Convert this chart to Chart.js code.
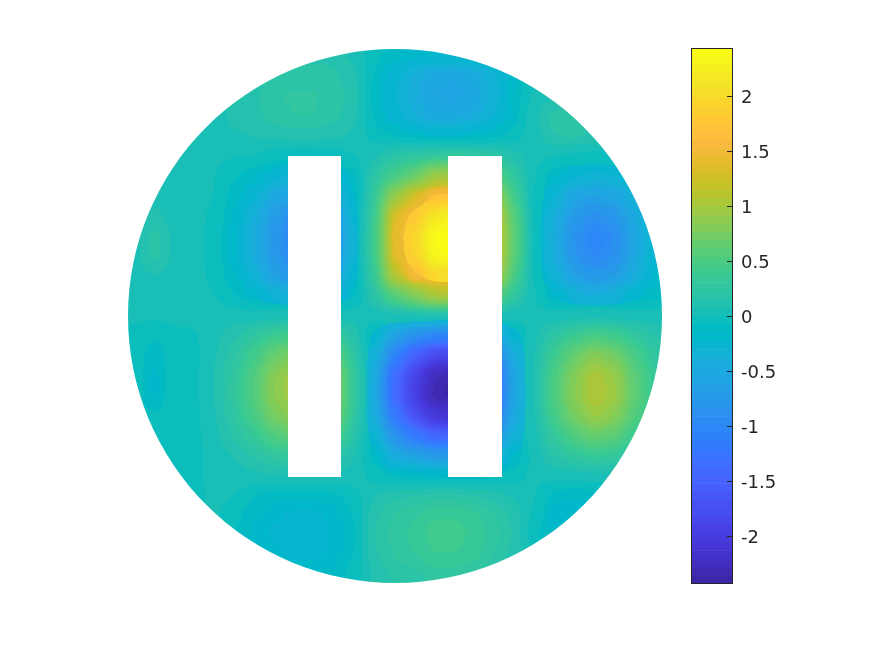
<!DOCTYPE html>
<html>
<head>
<meta charset="utf-8">
<style>
  body { margin: 0; background: #fff; }
  canvas { position: absolute; left: 0; top: 0; }
</style>
<script src="https://cdn.jsdelivr.net/npm/chart.js@4/dist/chart.umd.js"></script>
</head>
<body>
<canvas id="fieldChart" width="875" height="656"></canvas>
<canvas id="barChart" width="875" height="656"></canvas>
<script>
// sample positions of the grid
const colX = [-260,-240,-220,-200,-180,-160,-140,-120,-100,-80,-60,-40,-20,0,20,40,60,80,100,120,140,160,180,200,220,240,260];
const rowY = [260,240,220,200,180,160,140,120,100,80,60,40,20,0,-20,-40,-60,-80,-100,-120,-140,-160,-180,-200,-220,-240,-260];

const _ = null;
const row01 = [_,_,_,_,_,_,_,_,.1,.12,.12,.06,-.05,-.12,-.18,-.22,-.22,-.2,-.15,_,_,_,_,_,_,_,_];
const row02 = [_,_,_,_,_,.03,.1,.18,.21,.21,.17,.1,-.1,-.27,-.42,-.52,-.53,-.47,-.32,-.15,-.05,_,_,_,_,_,_];
const row03 = [_,_,_,_,.04,.1,.14,.22,.24,.24,.2,.12,-.12,-.3,-.42,-.54,-.55,-.5,-.35,-.15,.03,.06,.06,_,_,_,_];
const row04 = [_,_,_,.04,.04,.1,.13,.2,.23,.23,.18,.1,-.1,-.27,-.38,-.5,-.5,-.45,-.3,-.13,.05,.2,.2,.12,_,_,_];
const row05 = [_,_,.04,.04,.05,.07,.09,.11,.12,.12,.1,.06,-.04,-.1,-.15,-.2,-.2,-.17,-.12,-.05,.04,.16,.18,.14,.05,_,_];
const row06 = [_,.04,.05,.04,.02,0,0,-.05,-.08,-.08,-.05,0,.06,.17,.22,.25,.27,.25,.19,.1,.03,0,-.02,-.03,-.03,-.03,_];
const row07 = [.03,.03,.05,.04,0,-.07,-.15,-.26,-.34,-.34,-.27,-.1,.2,.45,.65,.95,1,.85,.55,.25,0,-.15,-.28,-.33,-.3,-.18,-.1];
const row08 = [.03,.05,.04,.03,0,-.12,-.28,-.5,-.65,-.65,-.53,-.18,.3,.9,1.3,1.65,1.75,1.5,1,.4,-.03,-.3,-.55,-.62,-.55,-.35,-.15];
const row09 = [.04,.1,.04,.03,-.02,-.17,-.4,-.7,-.92,-.92,-.75,-.26,.38,1.35,1.75,2.15,2.3,2,1.35,.55,-.05,-.4,-.75,-.88,-.8,-.5,-.2];
const row10 = [.05,.2,.05,.03,-.03,-.2,-.45,-.8,-1.05,-1.05,-.85,-.3,.4,1.45,1.95,2.4,2.44,2.2,1.5,.6,-.05,-.45,-.85,-1.05,-.92,-.55,-.25];
const row11 = [.05,.2,.05,.03,-.03,-.2,-.44,-.78,-1.02,-1.02,-.83,-.29,.39,1.4,1.9,2.35,2.44,2.15,1.45,.58,-.05,-.44,-.83,-1.02,-.9,-.53,-.24];
const row12 = [.03,.08,.04,.03,-.02,-.15,-.35,-.62,-.82,-.82,-.66,-.23,.32,1.1,1.6,1.95,2,1.75,1.17,.47,-.03,-.35,-.66,-.78,-.7,-.43,-.2];
const row13 = [.03,.03,.03,.03,0,-.08,-.18,-.32,-.42,-.42,-.34,-.12,.18,.55,.8,1.05,1.1,.9,.6,.25,0,-.18,-.34,-.4,-.36,-.22,-.1];
const row14 = [.01,.01,.01,.01,.03,.03,.03,.03,.03,.03,.03,.03,.03,.03,.03,.03,.03,.03,.03,.03,.03,.03,.03,.03,.03,.03,.03];
const row15 = [-.01,-.07,-.01,-.01,.05,.13,.25,.38,.45,.45,.35,.13,-.2,-.63,-.88,-1.05,-1.1,-.95,-.63,-.25,.06,.23,.38,.48,.42,.28,.15];
const row16 = [-.02,-.14,-.02,-.02,.07,.22,.43,.67,.78,.78,.62,.22,-.35,-1.09,-1.52,-1.83,-1.9,-1.64,-1.09,-.43,.07,.4,.66,.84,.74,.48,.25];
const row17 = [-.03,-.19,-.02,-.02,.08,.27,.53,.84,.98,.98,.8,.27,-.44,-1.36,-1.89,-2.28,-2.37,-2.04,-1.36,-.53,.08,.5,.82,1.05,.93,.6,.32];
const row18 = [-.03,-.19,-.02,-.02,.08,.28,.55,.86,1,1,.82,.28,-.45,-1.4,-1.95,-2.35,-2.44,-2.1,-1.4,-.55,.08,.52,.85,1.08,.95,.62,.33];
const row19 = [-.03,-.07,-.02,-.02,.07,.24,.48,.76,.88,.88,.72,.24,-.4,-1.23,-1.72,-2.07,-2.15,-1.85,-1.23,-.48,.07,.45,.75,.95,.84,.54,.29];
const row20 = [-.02,-.02,-.02,-.02,.05,.17,.33,.53,.62,.62,.5,.17,-.28,-.87,-1.21,-1.46,-1.51,-1.3,-.87,-.34,.05,.32,.53,.67,.6,.38,.2];
const row21 = [-.02,-.02,-.02,-.02,.03,.08,.17,.27,.32,.32,.25,.08,-.14,-.45,-.62,-.75,-.78,-.67,-.45,-.18,.03,.16,.27,.34,.3,.19,.09];
const row22 = [-.02,-.02,-.02,-.02,.03,.04,.06,.08,.08,.08,.06,.04,-.03,-.1,-.14,-.16,-.17,-.15,-.1,-.04,.02,.03,.04,.05,.04,.03,.02];
const row23 = [_,_,-.02,-.02,.02,0,-.08,-.12,-.13,-.13,-.1,-.03,.08,.13,.16,.18,.18,.16,.12,.06,0,-.12,-.15,-.15,-.1,_,_];
const row24 = [_,_,_,-.02,.01,-.05,-.15,-.22,-.25,-.25,-.2,-.08,.14,.24,.3,.38,.38,.34,.24,.13,-.02,-.22,-.22,-.15,_,_,_];
const row25 = [_,_,_,_,-.05,-.08,-.17,-.25,-.28,-.28,-.22,-.1,.16,.26,.34,.42,.42,.36,.26,.14,-.08,-.15,-.15,_,_,_,_];
const row26 = [_,_,_,_,_,-.1,-.15,-.2,-.25,-.25,-.2,-.08,.14,.24,.3,.38,.38,.34,.22,.12,.03,_,_,_,_,_,_];
const row27 = [_,_,_,_,_,_,_,_,-.1,-.12,-.12,-.03,.1,.16,.2,.26,.26,.22,.16,_,_,_,_,_,_,_,_];
const fieldRows = [row01,row02,row03,row04,row05,row06,row07,row08,row09,row10,row11,row12,row13,row14,row15,row16,row17,row18,row19,row20,row21,row22,row23,row24,row25,row26,row27];

// disc and the two slots, in the same units as colX / rowY
const discRadius = 267;
const slotX = [[-107,-54],[53,107]];
const slotY = [-161,160];

const colorMin = -2.44;
const colorMax = 2.44;
const barTicks = [-2,-1.5,-1,-0.5,0,0.5,1,1.5,2];

const parula = [
  [.2422,.1504,.6603],[.2504,.165,.7076],[.2578,.1818,.7511],[.2647,.1978,.7952],
  [.2706,.2147,.8364],[.2751,.2342,.871],[.2783,.2559,.8991],[.2803,.2782,.9221],
  [.2813,.3006,.9414],[.281,.3228,.9579],[.2795,.3447,.9717],[.276,.3667,.9829],
  [.2699,.3892,.9906],[.2602,.4123,.9952],[.244,.4358,.9988],[.2206,.4603,.9973],
  [.1963,.4847,.9892],[.1834,.5074,.9798],[.1786,.5289,.9682],[.1764,.5499,.952],
  [.1687,.5703,.9359],[.154,.5902,.9218],[.146,.6091,.9079],[.138,.6276,.8973],
  [.1248,.6459,.8883],[.1113,.6635,.8763],[.0952,.6798,.8598],[.0689,.6948,.8394],
  [.0297,.7082,.8163],[.0036,.7203,.7917],[.0067,.7312,.766],[.0433,.7411,.7394],
  [.0964,.75,.712],[.1408,.7584,.6842],[.1717,.767,.6554],[.1938,.7758,.6251],
  [.2161,.7843,.5923],[.247,.7918,.5567],[.2906,.7973,.5188],[.3406,.8008,.4789],
  [.3909,.8029,.4354],[.4456,.8024,.3909],[.5044,.7993,.348],[.5616,.7942,.3045],
  [.6174,.7876,.2612],[.672,.7793,.2227],[.7242,.7698,.191],[.7738,.7598,.1646],
  [.8203,.7498,.1535],[.8634,.7406,.1596],[.9035,.733,.1774],[.9393,.7288,.21],
  [.9728,.7298,.2394],[.9956,.7434,.2371],[.997,.7659,.2199],[.9952,.7893,.2028],
  [.9892,.8136,.1885],[.9786,.8386,.1766],[.9676,.8639,.1643],[.961,.889,.1537],
  [.9597,.9135,.1423],[.9628,.9373,.1265],[.9691,.9606,.1064],[.9769,.9839,.0805]
];
const parula255 = parula.map(c => c.map(v => Math.round(v * 255)));

function rgb(c) {
  return 'rgb(' + c.map(v => Math.round(v * 255)).join(',') + ')';
}

// blends between levels so the smoothing below has no big steps to round off
function colorFor(v) {
  const f = (v - colorMin) / (colorMax - colorMin) * parula.length - 0.5;
  const i = Math.max(0, Math.min(parula.length - 2, Math.floor(f)));
  const t = Math.max(0, Math.min(1, f - i));
  return rgb(parula[i].map((c, k) => c + (parula[i + 1][k] - c) * t));
}

const points = [];
fieldRows.forEach((row, j) => {
  row.forEach((v, i) => {
    if (v !== null) points.push({ x: colX[i], y: rowY[j], v: v });
  });
});

// snap smoothed pixels back to the colormap levels, gives the contour bands
function snapToLevels(ctx, x, y, w, h) {
  const img = ctx.getImageData(x, y, w, h);
  const d = img.data;
  const cache = new Map();
  for (let i = 0; i < d.length; i += 4) {
    const key = (d[i] << 16) | (d[i + 1] << 8) | d[i + 2];
    let c = cache.get(key);
    if (!c) {
      let best = Infinity;
      parula255.forEach(p => {
        const dist = (p[0] - d[i]) ** 2 + (p[1] - d[i + 1]) ** 2 + (p[2] - d[i + 2]) ** 2;
        if (dist < best) { best = dist; c = p; }
      });
      cache.set(key, c);
    }
    d[i] = c[0]; d[i + 1] = c[1]; d[i + 2] = c[2]; d[i + 3] = 255;
  }
  ctx.putImageData(img, x, y);
}

// smooths the grid cells, then cuts the disc and the slots out of them
const discPlugin = {
  id: 'disc',
  afterDatasetsDraw(chart) {
    const ctx = chart.ctx;
    const sx = chart.scales.x;
    const sy = chart.scales.y;
    const cx = sx.getPixelForValue(0);
    const cy = sy.getPixelForValue(0);
    const r = sx.getPixelForValue(discRadius) - cx;

    ctx.save();
    ctx.filter = 'blur(7px)';
    ctx.drawImage(chart.canvas, 0, 0);
    ctx.restore();

    snapToLevels(ctx, cx - r, cy - r, 2 * r, 2 * r);

    ctx.save();
    ctx.fillStyle = '#fff';
    ctx.beginPath();
    ctx.rect(0, 0, chart.width, chart.height);
    ctx.arc(cx, cy, r, 0, Math.PI * 2);
    ctx.fill('evenodd');
    slotX.forEach(s => {
      const x0 = sx.getPixelForValue(s[0]);
      const x1 = sx.getPixelForValue(s[1]);
      const y0 = sy.getPixelForValue(slotY[1]);
      const y1 = sy.getPixelForValue(slotY[0]);
      ctx.fillRect(x0, y0, x1 - x0, y1 - y0);
    });
    ctx.restore();
  }
};

new Chart(document.getElementById('fieldChart'), {
  type: 'scatter',
  data: {
    datasets: [{
      data: points,
      pointStyle: 'rect',
      pointRadius: 15,
      pointBorderWidth: 0,
      pointBackgroundColor: points.map(p => colorFor(p.v)),
      clip: false
    }]
  },
  options: {
    responsive: false,
    animation: false,
    layout: { padding: { left: 128, right: 213, top: 49, bottom: 73 } },
    plugins: { legend: { display: false }, tooltip: { enabled: false } },
    scales: {
      x: { display: false, min: -discRadius, max: discRadius },
      y: { display: false, min: -discRadius, max: discRadius }
    }
  },
  plugins: [discPlugin]
});

// colorbar: one floating bar per colormap level
const levelStep = (colorMax - colorMin) / parula.length;
const barDatasets = parula.map((c, i) => ({
  data: [[colorMin + i * levelStep, colorMin + (i + 1) * levelStep]],
  backgroundColor: rgb(c),
  borderWidth: 0,
  barPercentage: 1,
  categoryPercentage: 1,
  grouped: false
}));

const barFrame = {
  id: 'barFrame',
  afterDatasetsDraw(chart) {
    const ctx = chart.ctx;
    const a = chart.chartArea;
    const sy = chart.scales.y;
    ctx.save();
    ctx.strokeStyle = '#262626';
    ctx.lineWidth = 1;
    ctx.strokeRect(a.left + 0.5, a.top + 0.5, a.right - a.left - 1, a.bottom - a.top - 1);
    ctx.fillStyle = '#262626';
    ctx.font = '18px "DejaVu Sans"';
    ctx.textBaseline = 'middle';
    barTicks.forEach(t => {
      const y = Math.round(sy.getPixelForValue(t)) + 0.5;
      ctx.beginPath();
      ctx.moveTo(a.right - 6, y);
      ctx.lineTo(a.right - 1, y);
      ctx.stroke();
      ctx.fillText(String(t), a.right + 8, y + 1.5);
    });
    ctx.restore();
  }
};

new Chart(document.getElementById('barChart'), {
  type: 'bar',
  data: { labels: [''], datasets: barDatasets },
  options: {
    responsive: false,
    animation: false,
    layout: { padding: { left: 691, right: 0, top: 48, bottom: 72 } },
    plugins: { legend: { display: false }, tooltip: { enabled: false } },
    scales: {
      x: { display: false },
      y: {
        position: 'right',
        min: colorMin,
        max: colorMax,
        afterFit(scale) { scale.width = 142; },
        grid: { display: false },
        border: { display: false },
        ticks: { display: false }
      }
    }
  },
  plugins: [barFrame]
});
</script>
</body>
</html>
